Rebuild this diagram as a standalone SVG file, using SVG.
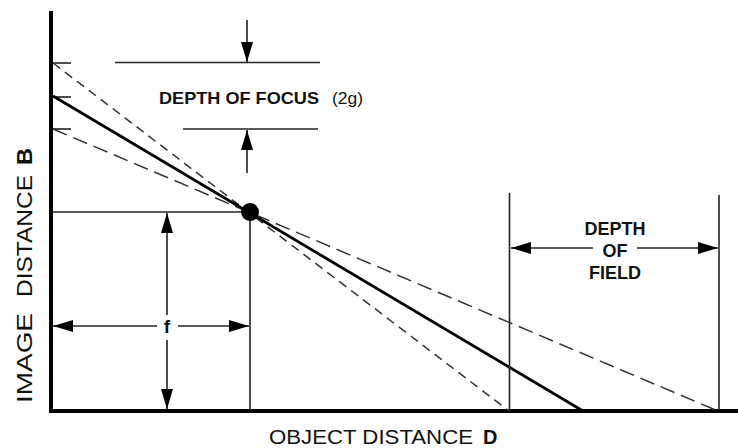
<svg xmlns="http://www.w3.org/2000/svg" width="738" height="448" viewBox="0 0 738 448">
  <style>
    .axis { stroke: #000; stroke-width: 4; fill: none; }
    .thin { stroke: #222; stroke-width: 1.6; fill: none; }
    .main { stroke: #000; stroke-width: 2.8; fill: none; }
    .dash1 { stroke: #333; stroke-width: 1.5; fill: none; stroke-dasharray: 9 6; }
    .dash2 { stroke: #333; stroke-width: 1.5; fill: none; stroke-dasharray: 15 7; }
    .arr { stroke: #222; stroke-width: 1.6; fill: none; marker-end: url(#ah); }
    .lbl { font-family: "Liberation Sans", Arial, sans-serif; fill: #111; }
    .b { font-weight: bold; }
  </style>
  <defs>
    <marker id="ah" markerUnits="userSpaceOnUse" markerWidth="20" markerHeight="12" refX="20" refY="6" orient="auto" viewBox="0 0 20 12">
      <path d="M0,0 L20,6 L0,12 Z" fill="#000"/>
    </marker>
  </defs>

  <g id="axes">
    <line class="axis" x1="51" y1="11" x2="51" y2="413"/>
    <line class="axis" x1="49" y1="411" x2="738" y2="411"/>
    <line class="thin" x1="53" y1="63" x2="71" y2="63"/>
    <line class="thin" x1="53" y1="97" x2="71" y2="97"/>
    <line class="thin" x1="53" y1="129" x2="71" y2="129"/>
  </g>

  <g id="connectors">
    <line class="dash1" x1="53" y1="63" x2="509" y2="411"/>
    <line class="dash2" x1="53" y1="129" x2="718" y2="411"/>
    <line class="main" x1="53" y1="96" x2="583" y2="411"/>
    <line class="thin" x1="53" y1="212" x2="250" y2="212"/>
    <line class="thin" x1="250" y1="212" x2="250" y2="410"/>
    <line class="thin" x1="509.5" y1="193" x2="509.5" y2="410"/>
    <line class="thin" x1="719" y1="195" x2="719" y2="410"/>
    <line class="thin" x1="115" y1="62.5" x2="320" y2="62.5"/>
    <line class="thin" x1="183" y1="129" x2="318" y2="129"/>
    <line class="arr" x1="247" y1="20" x2="247" y2="62"/>
    <line class="arr" x1="247" y1="173" x2="247" y2="130"/>
    <line class="arr" x1="157" y1="326" x2="53" y2="326"/>
    <line class="arr" x1="178" y1="326" x2="249" y2="326"/>
    <line class="arr" x1="167" y1="315" x2="167" y2="213"/>
    <line class="arr" x1="167" y1="340" x2="167" y2="409"/>
    <line class="arr" x1="593" y1="248" x2="511" y2="248"/>
    <line class="arr" x1="637" y1="248" x2="718" y2="248"/>
  </g>

  <g id="focal-point">
    <circle cx="250" cy="212" r="9" fill="#000"/>
  </g>

  <g id="depth-of-focus">
    <text class="lbl b" x="159" y="104" font-size="17" textLength="160" lengthAdjust="spacingAndGlyphs">DEPTH OF FOCUS</text>
    <text class="lbl" x="332" y="104" font-size="17" textLength="31" lengthAdjust="spacingAndGlyphs">(2g)</text>
  </g>

  <g id="depth-of-field">
    <text class="lbl b" x="615" y="235" font-size="18" text-anchor="middle">DEPTH</text>
    <text class="lbl b" x="615" y="257" font-size="18" text-anchor="middle">OF</text>
    <text class="lbl b" x="615" y="279" font-size="18" text-anchor="middle">FIELD</text>
  </g>

  <g id="focal-length">
    <text class="lbl b" x="167" y="333" font-size="19" text-anchor="middle">f</text>
  </g>

  <g id="y-label" transform="rotate(-90)">
    <text class="lbl" x="-403" y="32" font-size="22" textLength="90" lengthAdjust="spacingAndGlyphs">IMAGE</text>
    <text class="lbl" x="-297" y="32" font-size="22" textLength="122" lengthAdjust="spacingAndGlyphs">DISTANCE</text>
    <text class="lbl b" x="-165" y="32" font-size="22" textLength="17" lengthAdjust="spacingAndGlyphs">B</text>
  </g>

  <g id="x-label">
    <text class="lbl" x="269" y="444" font-size="20" textLength="204" lengthAdjust="spacingAndGlyphs">OBJECT DISTANCE</text>
    <text class="lbl b" x="483" y="444" font-size="20">D</text>
  </g>
</svg>
